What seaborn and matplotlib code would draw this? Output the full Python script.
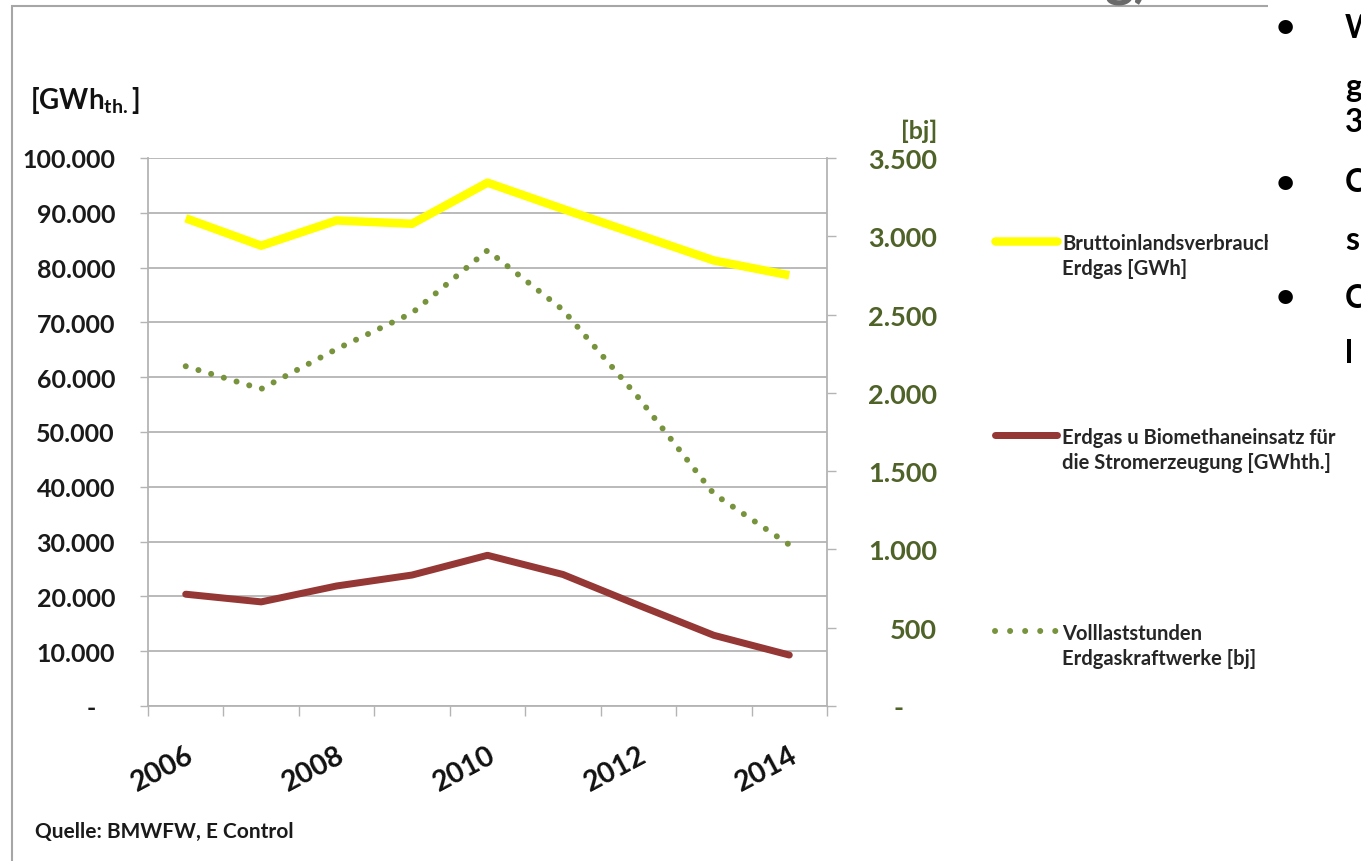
import numpy as np
import pandas as pd
import seaborn as sns
import matplotlib.pyplot as plt
from matplotlib.lines import Line2D
from matplotlib.patches import Rectangle
from matplotlib.ticker import FuncFormatter, NullFormatter

# values
years = [2006, 2007, 2008, 2009, 2010, 2011, 2012, 2013, 2014]
verbrauch = [89000, 84000, 88600, 88000, 95500, 90700, 86000, 81300, 78600]   # GWh
strom = [20400, 19000, 21900, 23900, 27500, 24000, 18400, 12900, 9300]        # GWh th.
volllast = [2170, 2025, 2280, 2510, 2910, 2530, 1970, 1355, 1030]             # bj
left_ticks = list(range(0, 100001, 10000))
right_ticks = list(range(0, 3501, 500))
year_labels = [2006, 2008, 2010, 2012, 2014]

YELLOW = "#FFFF00"
RED = "#953735"
GREEN = "#77933C"
OLIVE = "#4F6228"
GRID = "#B4B4B4"

sns.set_theme(style="white")
plt.rcParams["font.family"] = ["Lato", "DejaVu Sans"]
plt.rcParams["font.weight"] = "bold"
plt.rcParams["mathtext.fontset"] = "custom"
plt.rcParams["mathtext.rm"] = "Lato:bold"

W, H = 1361, 862
px = 72 / 100  # points per pixel


def fx(x):
    return x / W


def fy(y):
    return 1 - y / H


fig = plt.figure(figsize=(W / 100, H / 100), dpi=100)
ax = fig.add_axes([fx(148), fy(707), fx(827) - fx(148), fy(159) - fy(707)])
ax2 = ax.twinx()

df = pd.DataFrame({"Jahr": years, "verbrauch": verbrauch, "strom": strom, "volllast": volllast})

sns.lineplot(data=df, x="Jahr", y="verbrauch", ax=ax, color=YELLOW,
             linewidth=8.5 * px, solid_capstyle="butt", zorder=3)
sns.lineplot(data=df, x="Jahr", y="strom", ax=ax, color=RED,
             linewidth=7 * px, solid_capstyle="round", zorder=3)
sns.lineplot(data=df, x="Jahr", y="volllast", ax=ax2, color=GREEN,
             linewidth=6 * px, dashes=False, zorder=3)
green = ax2.get_lines()[0]
green.set_linestyle((0, (0.01, 2.2)))
green.set_dash_capstyle("round")


def de_fmt(v):
    return f"{v:,.0f}".replace(",", ".")


# left axis
ax.set_ylim(0, 100000)
ax.set_yticks(left_ticks)
ax.yaxis.set_major_formatter(FuncFormatter(lambda v, p: "-   " if v == 0 else de_fmt(v)))
ax.yaxis.grid(True, color=GRID, linewidth=1.3)
ax.tick_params(axis="y", direction="out", length=8 * px, width=1, color=GRID,
               pad=25 * px, labelsize=18, labelcolor="#1a1a1a", left=True)
ax.set_ylabel("")

# right axis, labels right-aligned like the Excel accounting format
ax2.set_ylim(0, 3500)
ax2.set_yticks(right_ticks)
ax2.yaxis.set_major_formatter(FuncFormatter(lambda v, p: "-     " if v == 0 else de_fmt(v)))
ax2.tick_params(axis="y", direction="out", length=9 * px, width=1, color=GRID,
                pad=101 * px, labelsize=19.5, labelcolor=OLIVE, right=True)
plt.setp(ax2.get_yticklabels(), ha="right")
ax2.set_ylabel("")
ax2.grid(False)

# x axis: ticks between categories, labels on every second year
ax.set_xlim(2005.5, 2014.5)
ax.set_xticks(np.arange(2005.5, 2015, 1.0))
ax.xaxis.set_major_formatter(NullFormatter())
ax.set_xticks(year_labels, minor=True)
ax.set_xticklabels([str(y) for y in year_labels], minor=True)
ax.tick_params(axis="x", which="major", direction="out", length=10 * px, width=1,
               color=GRID, bottom=True)
ax.tick_params(axis="x", which="minor", length=0, pad=35 * px, labelsize=20.5,
               labelcolor="#111111")
for lab in ax.get_xticklabels(minor=True):
    lab.set_rotation(28)
    lab.set_ha("right")
    lab.set_va("top")
    lab.set_rotation_mode("anchor")
ax.set_xlabel("")

for a in (ax, ax2):
    a.spines["top"].set_visible(False)
    for s in a.spines.values():
        s.set_color(GRID)
        s.set_linewidth(1.3)
ax.spines["right"].set_visible(False)
ax2.spines["left"].set_visible(False)
ax2.spines["bottom"].set_visible(False)
ax2.patch.set_visible(False)

# axis unit labels
fig.text(fx(30), fy(100), r"$\mathregular{[GWh_{th.}]}$", fontsize=20, color="#111111",
         ha="left", va="center")
fig.text(fx(937), fy(131), "[bj]", fontsize=18, color=OLIVE, ha="right", va="center")

# legend drawn at the right of the plot
legend_items = [
    (YELLOW, "-", 8.5, 242, "Bruttoinlandsverbrauch", "Erdgas [GWh]"),
    (RED, "-", 7, 436, "Erdgas u Biomethaneinsatz für", "die Stromerzeugung [GWhth.]"),
    (GREEN, (0, (0.01, 2.5)), 6, 632, "Volllaststunden", "Erdgaskraftwerke [bj]"),
]
for color, ls, lw, y, l1, l2 in legend_items:
    fig.add_artist(Line2D([fx(995), fx(1057)], [fy(y), fy(y)], color=color, linewidth=lw * px,
                          linestyle=ls, solid_capstyle="round", dash_capstyle="round"))
    fig.text(fx(1062), fy(y + 8), l1, fontsize=14.5, color="#262626", va="baseline")
    fig.text(fx(1062), fy(y + 33), l2, fontsize=14.5, color="#262626", va="baseline")

fig.text(fx(35), fy(838), "Quelle: BMWFW, E Control", fontsize=15, color="#1a1a1a",
         va="baseline")

# slide frame around the chart
fig.add_artist(Rectangle((fx(12), fy(900)), 2, fy(7) - fy(900), fill=False,
                         edgecolor="#A6A6A6", linewidth=1.5))
fig.text(fx(1105), fy(-4), "g)", fontsize=40, color="#6a6a6a", va="baseline")

# neighbouring text box of the slide (cut off at the edge)
fig.add_artist(Rectangle((fx(1268), fy(385)), 1, fy(0) - fy(385), facecolor="white",
                         edgecolor="none", zorder=5))
for y in [28, 183, 298]:
    fig.text(fx(1276), fy(y), "•", fontsize=24, color="black", va="center", zorder=6)
for ch, y in [("W", 28), ("g", 88), ("3", 122), ("C", 183), ("s", 240), ("C", 298), ("l", 354)]:
    fig.text(fx(1345), fy(y), ch, fontsize=23, color="black", va="center", zorder=6)

fig.savefig("out.png", dpi=100, facecolor="white")
